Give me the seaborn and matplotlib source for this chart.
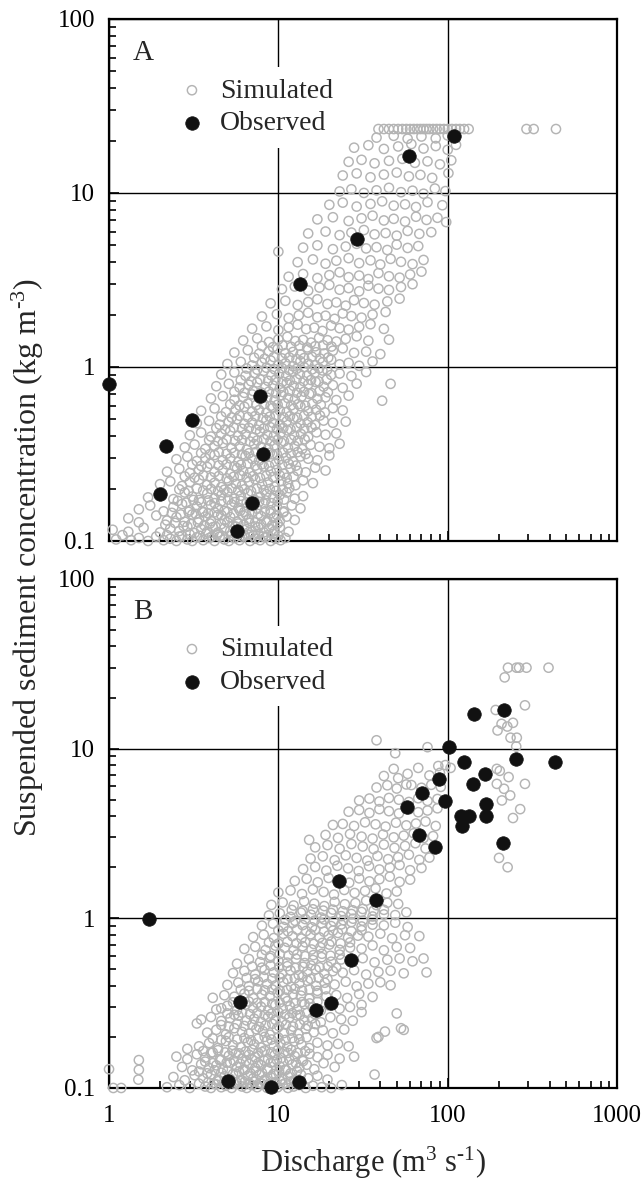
import numpy as np
import matplotlib
matplotlib.use("Agg")
import matplotlib.pyplot as plt
import seaborn as sns
from matplotlib.ticker import LogLocator, NullFormatter

# Abfluss (m3/s) und Schwebstoffkonzentration (kg/m3)
# Panel A - simuliert (x, y)
sim_a = [
    (1.1,0.102),(1.2,0.108),(1.35,0.101),(1.5,0.104),(1.7,0.1),(1.9,0.106),(2.1,0.101),(2.3,0.103),(2.5,0.1),(2.7,0.107),(2.9,0.102),(3.1,0.1),(3.3,0.105),(3.6,0.101),(3.9,0.104),(4.2,0.1),(4.5,0.106),(4.8,0.102),(5.1,0.1),(5.5,0.104),(5.9,0.101),(6.3,0.107),(6.8,0.1),(7.3,0.103),(7.8,0.101),(8.4,0.105),(9.0,0.1),(9.6,0.103),(10.3,0.101),(11.0,0.104),
    (1.05,0.116),(1.3,0.113),(1.6,0.119),(2.0,0.112),(2.3,0.118),(2.6,0.114),(2.9,0.121),(3.2,0.111),(3.5,0.117),(3.8,0.113),(4.1,0.12),(4.4,0.112),(4.8,0.118),(5.2,0.114),(5.6,0.121),(6.0,0.111),(6.5,0.117),(7.0,0.113),(7.6,0.12),(8.2,0.112),(8.8,0.118),(9.5,0.114),(10.2,0.12),(11.5,0.113),
    (1.3,0.135),(1.5,0.128),(1.9,0.14),(2.2,0.131),(2.5,0.137),(2.8,0.129),(3.1,0.142),(3.4,0.133),(3.7,0.138),(4.0,0.13),(4.4,0.141),(4.8,0.132),(5.2,0.137),(5.7,0.129),(6.2,0.14),(6.7,0.134),(7.3,0.128),(7.9,0.139),(8.6,0.131),(9.4,0.136),(10.2,0.13),(11.2,0.138),(12.5,0.132),
    (1.5,0.152),(1.75,0.16),(2.1,0.148),(2.4,0.157),(2.7,0.163),(3.0,0.15),(3.3,0.158),(3.6,0.146),(4.0,0.161),(4.4,0.154),(4.8,0.149),(5.3,0.162),(5.8,0.155),(6.3,0.147),(6.9,0.159),(7.5,0.153),(8.2,0.164),(9.0,0.15),(9.8,0.157),(10.8,0.148),(12.0,0.16),(13.5,0.154),
    (1.7,0.178),(2.0,0.185),(2.4,0.174),(2.8,0.19),(3.1,0.18),(3.4,0.172),(3.8,0.187),(4.2,0.176),(4.6,0.183),(5.0,0.191),(5.5,0.175),(6.0,0.182),(6.6,0.188),(7.2,0.173),(7.8,0.179),(8.5,0.186),(9.3,0.177),(10.2,0.184),(11.2,0.19),(12.5,0.175),(14.0,0.181),
    (2.0,0.212),(2.3,0.22),(2.7,0.207),(3.0,0.218),(3.4,0.225),(3.8,0.21),(4.2,0.216),(4.6,0.204),(5.1,0.222),(5.6,0.213),(6.1,0.208),(6.7,0.219),(7.3,0.226),(8.0,0.211),(8.7,0.217),(9.5,0.205),(10.4,0.221),(11.4,0.214),(12.6,0.209),(14.0,0.223),(16.0,0.215),
    (2.2,0.25),(2.6,0.26),(3.0,0.246),(3.4,0.257),(3.8,0.266),(4.2,0.249),(4.7,0.255),(5.2,0.243),(5.7,0.262),(6.2,0.252),(6.8,0.247),(7.5,0.259),(8.2,0.268),(9.0,0.251),(9.8,0.256),(10.8,0.244),(11.8,0.261),(13.0,0.253),(14.5,0.248),(16.5,0.264),(19.0,0.254),
    (2.5,0.295),(2.9,0.305),(3.3,0.288),(3.7,0.3),(4.2,0.312),(4.7,0.292),(5.2,0.298),(5.8,0.285),(6.4,0.308),(7.0,0.296),(7.7,0.29),(8.4,0.303),(9.2,0.315),(10.1,0.293),(11.1,0.301),(12.2,0.287),(13.5,0.306),(15.0,0.297),(17.0,0.291),(20.0,0.31),
    (2.8,0.345),(3.2,0.358),(3.7,0.338),(4.2,0.352),(4.7,0.365),(5.3,0.342),(5.9,0.349),(6.5,0.335),(7.2,0.36),(7.9,0.347),(8.7,0.34),(9.5,0.355),(10.4,0.368),(11.4,0.343),(12.5,0.351),(13.8,0.337),(15.5,0.357),(17.5,0.348),(20.0,0.341),(23.0,0.362),
    (3.0,0.405),(3.5,0.42),(4.0,0.398),(4.6,0.413),(5.2,0.428),(5.8,0.402),(6.4,0.41),(7.1,0.394),(7.8,0.424),(8.6,0.407),(9.4,0.4),(10.3,0.417),(11.3,0.432),(12.4,0.404),(13.6,0.412),(15.0,0.396),(16.8,0.421),(19.0,0.408),(22.0,0.415),
    (3.3,0.475),(3.9,0.49),(4.5,0.466),(5.1,0.483),(5.7,0.5),(6.3,0.471),(7.0,0.479),(7.7,0.462),(8.5,0.495),(9.3,0.477),(10.2,0.468),(11.2,0.487),(12.3,0.505),(13.5,0.473),(14.9,0.481),(16.5,0.464),(18.5,0.492),(21.0,0.478),(25.0,0.485),
    (3.5,0.56),(4.2,0.578),(4.9,0.55),(5.6,0.57),(6.3,0.59),(7.0,0.555),(7.7,0.565),(8.5,0.545),(9.3,0.584),(10.2,0.562),(11.2,0.552),(12.3,0.574),(13.5,0.595),(15.0,0.558),(16.7,0.568),(18.8,0.548),(21.0,0.58),(24.0,0.563),
    (4.0,0.66),(4.7,0.68),(5.5,0.648),(6.2,0.672),(7.0,0.695),(7.8,0.654),(8.6,0.666),(9.5,0.642),(10.4,0.688),(11.4,0.662),(12.5,0.65),(13.7,0.676),(15.2,0.7),(17.0,0.657),(19.0,0.669),(22.0,0.645),(26.0,0.684),(41.0,0.64),
    (4.3,0.775),(5.1,0.8),(5.9,0.762),(6.7,0.79),(7.5,0.815),(8.4,0.768),(9.3,0.782),(10.2,0.755),(11.2,0.808),(12.3,0.778),(13.5,0.765),(15.0,0.795),(16.6,0.82),(18.5,0.771),(21.0,0.786),(24.0,0.758),(29.0,0.802),(46.0,0.8),
    (4.6,0.905),(5.5,0.93),(6.4,0.89),(7.3,0.92),(8.2,0.95),(9.1,0.895),(10.1,0.912),(11.1,0.882),(12.2,0.94),(13.4,0.908),(14.8,0.893),(16.4,0.925),(18.2,0.955),(20.5,0.9),(23.0,0.917),(27.0,0.886),(33.0,0.935),
    (5.0,1.04),(6.0,1.07),(7.0,1.02),(8.0,1.06),(9.0,1.09),(10.0,1.03),(11.0,1.05),(12.2,1.01),(13.5,1.08),(15.0,1.045),(16.5,1.025),(18.3,1.065),(20.5,1.1),(23.0,1.035),(26.0,1.055),(30.0,1.015),(36.0,1.075),
    (5.5,1.21),(6.6,1.25),(7.7,1.19),(8.8,1.23),(9.9,1.27),(11.0,1.2),(12.2,1.22),(13.5,1.18),(15.0,1.26),(16.7,1.215),(18.6,1.195),(21.0,1.24),(24.0,1.28),(28.0,1.205),(33.0,1.225),(40.0,1.185),
    (6.2,1.42),(7.5,1.46),(8.8,1.39),(10.0,1.44),(11.3,1.49),(12.6,1.41),(14.0,1.43),(15.6,1.38),(17.4,1.47),(19.5,1.425),(22.0,1.4),(25.0,1.45),(29.0,1.5),(34.0,1.415),(45.0,1.435),
    (7.0,1.66),(8.5,1.71),(10.0,1.63),(11.5,1.69),(13.0,1.75),(14.6,1.65),(16.3,1.68),(18.2,1.61),(20.5,1.73),(23.0,1.67),(26.0,1.64),(30.0,1.7),(35.0,1.76),(42.0,1.655),
    (8.0,1.95),(9.8,2.01),(11.5,1.91),(13.2,1.98),(15.0,2.05),(17.0,1.93),(19.0,1.97),(21.5,1.89),(24.0,2.03),(27.0,1.96),(31.0,1.92),(36.0,2.0),(43.0,2.07),
    (9.0,2.32),(11.0,2.4),(13.0,2.27),(15.0,2.36),(17.0,2.45),(19.5,2.3),(22.0,2.35),(25.0,2.25),(28.0,2.42),(32.0,2.33),(37.0,2.28),(44.0,2.38),(52.0,2.47),
    (10.5,2.8),(12.5,2.9),(15.0,2.75),(17.5,2.86),(20.0,2.96),(23.0,2.78),(26.0,2.84),(30.0,2.72),(34.0,2.93),(39.0,2.82),(45.0,2.77),(53.0,2.88),(62.0,2.99),
    (11.5,3.3),(14.0,3.42),(17.0,3.24),(20.0,3.37),(23.0,3.5),(26.0,3.28),(30.0,3.35),(34.0,3.2),(39.0,3.46),(45.0,3.32),(52.0,3.26),(60.0,3.4),(70.0,3.53),
    (10.0,4.6),(13.0,4.0),(16.0,4.15),(19.0,3.92),(22.0,4.08),(26.0,4.22),(30.0,3.95),(35.0,4.1),(40.0,3.88),(46.0,4.18),(53.0,4.02),(62.0,3.9),(72.0,4.12),
    (14.0,4.85),(17.0,5.0),(21.0,4.75),(25.0,4.92),(29.0,5.1),(33.0,4.8),(38.0,4.88),(44.0,4.7),(50.0,5.05),(58.0,4.83),(67.0,4.95),
    (15.0,5.85),(19.0,6.0),(23.0,5.72),(27.0,5.92),(32.0,6.12),(37.0,5.78),(43.0,5.88),(50.0,5.68),(58.0,6.05),(68.0,5.82),(80.0,5.95),(98.0,6.8),
    (17.0,7.05),(21.0,7.25),(26.0,6.9),(31.0,7.15),(36.0,7.4),(42.0,6.95),(48.0,7.1),(56.0,6.85),(65.0,7.3),(75.0,7.0),(87.0,7.2),
    (20.0,8.55),(24.0,8.8),(29.0,8.35),(35.0,8.65),(41.0,8.95),(48.0,8.45),(56.0,8.6),(65.0,8.3),(76.0,8.85),(93.0,8.5),
    (23.0,10.2),(27.0,10.5),(32.0,10.0),(38.0,10.35),(45.0,10.7),(53.0,10.1),(62.0,10.3),(72.0,9.9),(84.0,10.6),(97.0,10.25),
    (24.0,12.6),(29.0,12.95),(35.0,12.3),(42.0,12.75),(50.0,13.1),(59.0,12.45),(69.0,12.7),(81.0,12.2),(101.0,13.0),
    (26.0,15.1),(31.0,15.5),(37.0,14.8),(45.0,15.3),(54.0,15.7),(64.0,14.9),(76.0,15.2),(90.0,14.6),(105.0,15.4),
    (28.0,18.2),(34.0,18.8),(42.0,17.9),(51.0,18.5),(61.0,19.1),(72.0,18.0),(85.0,18.6),(100.0,17.7),(112.0,18.9),
    (38.0,20.8),(48.0,21.3),(58.0,20.5),(70.0,21.1),(85.0,20.6),(100.0,21.4),
    (39,23.3),(42,23.3),(45,23.3),(48,23.3),(51,23.3),(54,23.3),(57,23.3),(60,23.3),(63,23.3),(66,23.3),(69,23.3),(72,23.3),(75,23.3),(78,23.3),(82,23.3),(86,23.3),(90,23.3),(95,23.3),(100,23.3),(106,23.3),(112,23.3),(118,23.3),(125,23.3),(133,23.3),(292,23.3),(322,23.3),(436,23.3),
    # dichter Kern
    (2.2,0.108),(2.6,0.106),(3.0,0.109),(3.45,0.107),(3.75,0.11),(4.05,0.106),(4.35,0.109),(4.65,0.107),(5.3,0.108),(5.7,0.11),(6.1,0.106),(6.6,0.109),(7.1,0.107),(7.6,0.11),(8.1,0.106),(8.7,0.108),(9.3,0.11),(10.0,0.107),
    (2.15,0.124),(2.45,0.127),(2.75,0.122),(3.05,0.125),(3.35,0.128),(3.65,0.123),(3.95,0.126),(4.25,0.121),(4.6,0.125),(5.0,0.128),(5.4,0.122),(5.8,0.126),(6.25,0.124),(6.75,0.127),(7.3,0.121),(7.9,0.125),(8.5,0.128),(9.2,0.123),(9.9,0.126),
    (2.35,0.145),(2.65,0.142),(2.95,0.147),(3.25,0.143),(3.55,0.148),(3.85,0.144),(4.2,0.146),(4.6,0.141),(5.0,0.147),(5.45,0.144),(5.95,0.149),(6.45,0.142),(7.0,0.146),(7.6,0.143),(8.3,0.148),(9.0,0.144),(9.8,0.141),(10.7,0.146),
    (2.55,0.17),(2.85,0.166),(3.15,0.172),(3.5,0.167),(3.85,0.171),(4.2,0.165),(4.6,0.169),(5.05,0.173),(5.5,0.167),(6.0,0.17),(6.5,0.166),(7.1,0.172),(7.7,0.168),(8.4,0.171),(9.1,0.165),(9.9,0.169),(10.8,0.173),
    (2.6,0.198),(2.95,0.194),(3.3,0.2),(3.6,0.195),(4.0,0.199),(4.4,0.193),(4.8,0.197),(5.3,0.201),(5.8,0.195),(6.3,0.198),(6.9,0.193),(7.5,0.2),(8.2,0.196),(8.9,0.199),(9.7,0.194),(10.6,0.197),(11.6,0.201),
    (2.8,0.235),(3.2,0.231),(3.6,0.238),(4.0,0.232),(4.45,0.236),(4.95,0.229),(5.45,0.234),(5.95,0.239),(6.5,0.232),(7.1,0.236),(7.8,0.23),(8.5,0.237),(9.3,0.233),(10.2,0.238),(11.2,0.231),(12.3,0.235),
    (3.1,0.275),(3.5,0.27),(3.95,0.278),(4.45,0.272),(4.95,0.276),(5.5,0.269),(6.0,0.274),(6.6,0.279),(7.3,0.271),(8.0,0.276),(8.8,0.27),(9.6,0.277),(10.5,0.273),(11.5,0.278),(12.7,0.271),
    (3.5,0.32),(3.95,0.315),(4.45,0.323),(4.95,0.317),(5.5,0.321),(6.1,0.314),(6.7,0.319),(7.4,0.325),(8.1,0.316),(8.9,0.321),(9.8,0.315),(10.7,0.322),(11.8,0.318),(13.0,0.324),(14.5,0.316),
    (3.9,0.38),(4.4,0.374),(4.95,0.383),(5.55,0.376),(6.1,0.381),(6.8,0.373),(7.5,0.378),(8.2,0.385),(9.0,0.375),(9.9,0.381),(10.8,0.374),(11.9,0.382),(13.0,0.377),(14.3,0.384),
    (4.3,0.445),(4.85,0.438),(5.45,0.449),(6.1,0.441),(6.7,0.447),(7.4,0.437),(8.2,0.443),(8.95,0.451),(9.8,0.44),(10.7,0.446),(11.8,0.438),(12.9,0.448),(14.2,0.442),(15.7,0.45),
    (4.6,0.52),(5.3,0.512),(5.9,0.525),(6.6,0.515),(7.3,0.522),(8.1,0.51),(8.9,0.518),(9.7,0.527),(10.7,0.514),(11.7,0.521),(12.9,0.511),(14.2,0.524),(15.7,0.517),(17.6,0.526),
    (5.2,0.61),(5.9,0.6),(6.6,0.616),(7.4,0.604),(8.2,0.612),(9.0,0.598),(9.9,0.607),(10.9,0.618),(11.9,0.602),(13.1,0.611),(14.4,0.599),(15.9,0.614),(17.8,0.606),
    (5.5,0.72),(6.3,0.71),(7.1,0.727),(7.9,0.713),(8.8,0.722),(9.7,0.706),(10.7,0.716),(11.7,0.73),(12.9,0.711),(14.2,0.721),(15.7,0.707),(17.5,0.725),(19.6,0.715),
    (6.0,0.84),(6.9,0.828),(7.8,0.848),(8.7,0.832),(9.6,0.843),(10.6,0.824),(11.7,0.836),(12.8,0.851),(14.1,0.829),(15.6,0.841),(17.3,0.826),(19.3,0.846),
    (6.5,0.98),(7.5,0.965),(8.5,0.99),(9.5,0.97),(10.5,0.985),(11.6,0.96),(12.8,0.975),(14.2,0.995),(15.8,0.968),(17.4,0.982),(19.4,0.962),
    (7.2,1.13),(8.3,1.115),(9.4,1.14),(10.5,1.12),(11.6,1.135),(12.8,1.11),(14.2,1.125),(15.8,1.145),(17.6,1.118),(19.7,1.132),
    (8.0,1.32),(9.3,1.3),(10.6,1.33),(11.9,1.305),(13.3,1.325),(14.8,1.295),(16.5,1.315),(18.4,1.335),(20.6,1.31),
]

# Panel A - beobachtet
obs_a_q = [108.8, 58.9, 29.2, 13.4, 1.0, 3.10, 2.16, 2.01, 7.82, 8.09, 6.96, 5.72]
obs_a_c = [21.3, 16.3, 5.42, 2.99, 0.795, 0.495, 0.353, 0.187, 0.684, 0.315, 0.166, 0.114]

# Panel B - simuliert (x, y)
sim_b = [
    (1.06,0.1),(1.18,0.1),(2.2,0.101),(2.6,0.104),(3.0,0.1),(3.4,0.106),(3.7,0.102),(4.0,0.1),(4.3,0.105),(4.6,0.101),(4.9,0.103),(5.3,0.1),(5.7,0.107),(6.1,0.102),(6.5,0.1),(7.0,0.104),(7.5,0.101),(8.0,0.106),(8.6,0.1),(9.2,0.103),(9.9,0.101),(10.6,0.105),(11.4,0.1),(12.3,0.102),(13.3,0.104),(14.5,0.1),(16.0,0.103),(18.0,0.101),(20.5,0.1),(23.7,0.104),
    (1.49,0.112),(2.4,0.116),(2.8,0.111),(3.2,0.119),(3.6,0.114),(4.0,0.12),(4.4,0.112),(4.8,0.117),(5.2,0.113),(5.6,0.121),(6.1,0.111),(6.6,0.118),(7.1,0.114),(7.7,0.12),(8.3,0.112),(9.0,0.116),(9.7,0.119),(10.5,0.113),(11.4,0.117),(12.4,0.111),(13.6,0.12),(15.0,0.114),(17.0,0.118),(19.5,0.112),(37.0,0.12),
    (1.0,0.129),(1.5,0.128),(2.7,0.133),(3.1,0.127),(3.5,0.138),(3.9,0.131),(4.3,0.136),(4.7,0.129),(5.2,0.141),(5.7,0.133),(6.2,0.128),(6.7,0.139),(7.3,0.131),(7.9,0.136),(8.6,0.13),(9.4,0.142),(10.2,0.134),(11.1,0.128),(12.1,0.138),(13.3,0.132),(14.7,0.137),(16.3,0.129),(18.5,0.14),(21.5,0.133),
    (1.5,0.146),(2.5,0.153),(2.9,0.148),(3.3,0.158),(3.7,0.151),(4.1,0.162),(4.6,0.147),(5.1,0.155),(5.6,0.16),(6.1,0.149),(6.7,0.157),(7.3,0.152),(8.0,0.163),(8.7,0.148),(9.5,0.156),(10.4,0.15),(11.4,0.161),(12.5,0.154),(13.8,0.147),(15.3,0.159),(17.0,0.152),(19.5,0.157),(23.0,0.149),(28.0,0.153),
    (2.9,0.17),(3.4,0.176),(3.9,0.184),(4.4,0.172),(4.9,0.189),(5.4,0.179),(6.0,0.174),(6.6,0.186),(7.2,0.181),(7.9,0.173),(8.6,0.19),(9.4,0.177),(10.3,0.183),(11.3,0.175),(12.4,0.188),(13.7,0.18),(15.2,0.172),(17.0,0.185),(19.5,0.178),(22.5,0.182),(26.0,0.176),(38.0,0.197),
    (3.3,0.24),(3.8,0.212),(4.3,0.22),(4.9,0.207),(5.5,0.225),(6.1,0.214),(6.7,0.209),(7.4,0.222),(8.1,0.216),(8.9,0.206),(9.8,0.224),(10.8,0.211),(11.9,0.218),(13.1,0.208),(14.5,0.223),(16.2,0.213),(18.3,0.219),(21.0,0.21),(24.5,0.221),(39.0,0.2),(42.6,0.215),(53.0,0.225),(55.0,0.22),
    (3.5,0.253),(4.0,0.262),(4.6,0.248),(5.2,0.258),(5.8,0.267),(6.5,0.25),(7.2,0.256),(7.9,0.245),(8.7,0.263),(9.6,0.252),(10.5,0.247),(11.6,0.26),(12.8,0.268),(14.2,0.251),(15.8,0.257),(17.8,0.244),(20.3,0.261),(23.5,0.254),(27.5,0.249),(31.0,0.28),(50.0,0.275),
    (4.3,0.29),(4.6,0.295),(5.0,0.305),(5.7,0.288),(6.4,0.31),(7.1,0.296),(7.9,0.301),(8.7,0.287),(9.6,0.308),(10.6,0.294),(11.7,0.303),(12.9,0.29),(14.3,0.312),(15.9,0.298),(17.8,0.286),(20.0,0.306),(23.0,0.293),(26.5,0.3),(31.0,0.309),
    (4.1,0.34),(4.8,0.352),(5.5,0.345),(6.3,0.36),(7.1,0.338),(8.0,0.355),(8.9,0.348),(9.9,0.364),(11.0,0.341),(12.2,0.357),(13.6,0.35),(15.2,0.336),(17.0,0.362),(19.2,0.346),(22.0,0.353),(25.5,0.339),(30.0,0.358),(36.0,0.344),
    (5.0,0.405),(5.8,0.418),(6.7,0.398),(7.6,0.425),(8.6,0.41),(9.6,0.402),(10.7,0.421),(11.9,0.395),(13.3,0.414),(14.9,0.428),(16.7,0.4),(18.8,0.417),(21.5,0.407),(25.0,0.423),(29.0,0.397),(34.0,0.412),(40.0,0.42),(46.0,0.403),
    (5.4,0.475),(6.3,0.49),(7.3,0.467),(8.3,0.497),(9.4,0.48),(10.5,0.47),(11.8,0.493),(13.2,0.463),(14.8,0.485),(16.6,0.5),(18.7,0.472),(21.0,0.488),(24.0,0.478),(28.0,0.495),(33.0,0.466),(39.0,0.483),(46.0,0.491),(55.0,0.474),(75.0,0.48),
    (5.7,0.54),(6.7,0.575),(7.8,0.552),(8.9,0.585),(10.0,0.56),(11.3,0.548),(12.7,0.578),(14.3,0.545),(16.0,0.568),(18.0,0.59),(20.5,0.555),(23.5,0.572),(27.0,0.562),(31.5,0.582),(37.0,0.55),(44.0,0.57),(52.0,0.58),(62.0,0.558),(72.0,0.58),
    (6.3,0.66),(7.3,0.68),(8.4,0.65),(9.6,0.69),(10.9,0.67),(12.3,0.645),(13.9,0.685),(15.7,0.655),(17.7,0.675),(20.0,0.7),(23.0,0.652),(26.5,0.672),(31.0,0.662),(36.0,0.692),(42.0,0.648),(50.0,0.678),(60.0,0.668),
    (7.1,0.775),(8.2,0.8),(9.4,0.765),(10.7,0.81),(12.1,0.785),(13.7,0.76),(15.5,0.805),(17.5,0.772),(19.8,0.792),(22.5,0.82),(25.8,0.768),(29.5,0.79),(34.0,0.78),(40.0,0.812),(47.0,0.762),(56.0,0.795),(68.0,0.785),
    (8.0,0.905),(9.3,0.93),(10.7,0.89),(12.2,0.94),(13.9,0.912),(15.8,0.885),(18.0,0.935),(20.5,0.9),(23.5,0.92),(27.0,0.95),(31.0,0.895),(36.0,0.918),(42.0,0.908),(49.0,0.942),(58.0,0.888),
    (8.8,1.04),(10.2,1.07),(11.8,1.02),(13.6,1.08),(15.6,1.05),(17.9,1.01),(20.5,1.075),(23.5,1.03),(27.0,1.06),(31.0,1.09),(36.0,1.025),(42.0,1.055),(49.0,1.045),(57.0,1.085),
    (9.1,1.2),(10.6,1.24),(12.3,1.19),(14.2,1.26),(16.3,1.22),(18.7,1.18),(21.5,1.25),(24.7,1.21),(28.5,1.23),(33.0,1.27),(38.0,1.195),(44.0,1.235),(51.0,1.215),
    (10.0,1.42),(11.8,1.46),(13.8,1.39),(16.0,1.48),(18.5,1.43),(21.3,1.38),(24.5,1.47),(28.2,1.41),(32.5,1.45),(37.5,1.5),(43.5,1.4),(50.0,1.44),
    (12.5,1.66),(14.7,1.71),(17.1,1.63),(19.8,1.73),(22.8,1.68),(26.2,1.62),(30.0,1.72),(34.5,1.65),(39.5,1.7),(45.5,1.76),(52.0,1.64),(60.0,1.69),
    (14.0,1.95),(16.5,2.01),(19.2,1.91),(22.3,2.04),(25.8,1.97),(29.8,1.9),(34.3,2.03),(39.5,1.94),(45.5,1.99),(52.0,2.06),(60.0,1.92),(70.0,1.98),(226.0,2.0),
    (15.5,2.25),(18.3,2.32),(21.5,2.2),(25.0,2.35),(29.0,2.27),(33.5,2.19),(38.5,2.33),(44.5,2.23),(51.0,2.29),(59.0,2.37),(68.0,2.21),(78.0,2.28),(201.0,2.27),
    (16.5,2.62),(19.5,2.7),(23.0,2.57),(27.0,2.74),(31.5,2.65),(36.5,2.56),(42.0,2.72),(48.5,2.6),(56.0,2.67),(64.5,2.77),(74.0,2.58),(84.0,2.66),
    (15.2,2.9),(19.0,3.1),(22.5,2.98),(26.5,3.14),(31.0,3.03),(36.0,2.95),(41.5,3.12),(48.0,3.0),(55.0,3.07),(63.0,3.17),(72.0,2.97),(82.0,3.05),
    (21.0,3.55),(24.0,3.6),(28.0,3.5),(32.5,3.68),(37.5,3.58),(43.0,3.47),(49.5,3.66),(57.0,3.53),(65.0,3.62),(74.0,3.72),(85.0,3.5),(243.0,3.9),
    (26.0,4.25),(30.0,4.35),(34.5,4.18),(39.5,4.4),(45.0,4.28),(51.5,4.15),(59.0,4.38),(67.0,4.22),(76.0,4.32),(87.0,4.45),(268.0,4.4),
    (30.0,4.95),(34.5,5.08),(39.5,4.88),(45.0,5.12),(51.5,5.0),(59.0,4.85),(67.0,5.1),(76.0,4.92),(87.0,5.05),(209.0,4.95),(234.0,5.3),
    (38.0,5.9),(44.0,6.08),(50.0,5.82),(57.0,6.15),(61.0,6.1),(70.0,5.88),(80.0,6.12),(91.0,5.95),(195.0,6.2),(215.0,5.8),(286.0,6.2),
    (42.0,6.9),(51.0,6.7),(58.0,7.1),(67.0,7.7),(78.0,6.95),(90.0,7.2),(229.0,6.8),(203.0,7.4),(195.0,7.6),
    (48.0,7.6),(104.0,7.7),(88.0,7.9),(97.0,8.0),
    (49.0,9.4),(38.0,11.2),(76.0,10.2),(254.0,10.3),(235.0,11.6),(256.0,11.6),(197.0,12.8),
    (208.0,14.0),(243.0,14.2),(192.0,16.9),(286.0,18.0),(225.0,13.5),
    (217.0,26.3),(227.0,30.0),(255.0,30.0),(264.0,30.0),(292.0,30.0),(394.0,30.0),
    # dichter Kern
    (3.85,0.108),(4.15,0.106),(4.45,0.11),(4.75,0.107),(5.1,0.109),(5.5,0.106),(5.9,0.11),(6.3,0.108),(6.75,0.106),(7.25,0.109),(7.75,0.107),(8.3,0.11),(8.9,0.106),(9.55,0.108),(10.25,0.11),(11.0,0.107),(11.85,0.109),(12.8,0.106),
    (3.4,0.125),(3.8,0.122),(4.2,0.127),(4.6,0.123),(5.0,0.126),(5.4,0.121),(5.85,0.125),(6.35,0.128),(6.85,0.122),(7.4,0.126),(8.0,0.123),(8.65,0.127),(9.35,0.121),(10.1,0.125),(10.9,0.128),(11.8,0.122),(12.9,0.126),
    (3.7,0.143),(4.1,0.14),(4.5,0.146),(4.95,0.141),(5.45,0.145),(5.95,0.139),(6.45,0.144),(7.0,0.147),(7.6,0.14),(8.25,0.145),(9.0,0.141),(9.8,0.146),(10.65,0.142),(11.6,0.147),(12.7,0.14),(14.0,0.144),
    (3.6,0.165),(4.0,0.161),(4.4,0.167),(4.85,0.162),(5.35,0.166),(5.85,0.16),(6.4,0.164),(7.0,0.168),(7.6,0.161),(8.3,0.166),(9.1,0.162),(9.9,0.167),(10.85,0.163),(11.9,0.168),(13.0,0.161),(14.4,0.165),
    (4.1,0.196),(4.6,0.192),(5.1,0.199),(5.7,0.193),(6.3,0.197),(6.9,0.191),(7.6,0.195),(8.3,0.2),(9.1,0.193),(10.0,0.198),(11.0,0.192),(12.1,0.197),(13.3,0.194),(14.7,0.199),
    (4.6,0.235),(5.1,0.23),(5.7,0.238),(6.3,0.232),(7.0,0.236),(7.7,0.229),(8.4,0.234),(9.2,0.239),(10.1,0.231),(11.1,0.236),(12.2,0.23),(13.4,0.237),(14.9,0.233),(16.5,0.238),
    (5.0,0.275),(5.5,0.27),(6.1,0.278),(6.8,0.272),(7.5,0.276),(8.3,0.269),(9.1,0.274),(10.0,0.279),(11.0,0.271),(12.1,0.276),(13.4,0.27),(14.8,0.277),(16.4,0.273),
    (5.4,0.32),(6.0,0.315),(6.7,0.323),(7.5,0.317),(8.3,0.321),(9.2,0.314),(10.2,0.319),(11.3,0.325),(12.5,0.316),(13.8,0.321),(15.3,0.315),(17.0,0.322),
    (6.0,0.38),(6.7,0.374),(7.5,0.383),(8.3,0.376),(9.2,0.381),(10.2,0.373),(11.3,0.378),(12.5,0.385),(13.8,0.375),(15.3,0.381),(17.0,0.374),(19.0,0.382),
    (6.5,0.445),(7.3,0.438),(8.2,0.449),(9.2,0.441),(10.2,0.447),(11.3,0.437),(12.5,0.443),(13.9,0.451),(15.5,0.44),(17.3,0.446),(19.5,0.438),
    (7.0,0.52),(8.0,0.512),(9.0,0.525),(10.1,0.515),(11.3,0.522),(12.6,0.51),(14.0,0.518),(15.6,0.527),(17.5,0.514),(19.6,0.521),(22.0,0.511),
    (8.0,0.61),(9.0,0.6),(10.2,0.616),(11.5,0.604),(12.9,0.612),(14.4,0.598),(16.1,0.607),(18.1,0.618),(20.3,0.602),(23.0,0.611),
    (8.8,0.72),(10.0,0.71),(11.3,0.727),(12.8,0.713),(14.4,0.722),(16.2,0.706),(18.2,0.716),(20.6,0.73),(23.3,0.711),(26.5,0.721),
    (10.0,0.85),(11.4,0.838),(12.9,0.858),(14.6,0.842),(16.5,0.853),(18.6,0.834),(21.0,0.846),(23.8,0.861),(27.0,0.839),(31.0,0.851),
    (11.0,0.98),(12.6,0.965),(14.4,0.99),(16.4,0.97),(18.6,0.985),(21.2,0.96),(24.2,0.975),(27.6,0.995),(31.5,0.968),(36.0,0.982),
    (12.0,1.12),(13.9,1.105),(16.0,1.13),(18.4,1.11),(21.0,1.125),(24.0,1.1),(27.5,1.115),(31.5,1.135),(36.5,1.108),(42.0,1.122),
]

# Panel B - beobachtet
obs_b_q = [143.7, 216, 101.6, 124.2, 253.7, 428.5, 88.5, 165.2, 140.5, 70.4, 96.7, 168, 57.3, 119.5,
           134.3, 168, 121.6, 67.3, 84.1, 211, 22.9, 37.7, 1.73, 26.8, 5.92, 20.4, 16.6, 5.04, 9.0, 13.3]
obs_b_c = [16.1, 16.8, 10.2, 8.3, 8.7, 8.3, 6.62, 7.06, 6.17, 5.47, 4.91, 4.71, 4.51, 4.01,
           4.01, 4.01, 3.50, 3.10, 2.64, 2.78, 1.67, 1.28, 0.99, 0.570, 0.323, 0.317, 0.287, 0.110, 0.102, 0.108]

x_ticks = [1, 10, 100, 1000]
x_ticklabels = ['1', '10', '100', '1000']
y_ticks = [0.1, 1, 10, 100]
y_ticklabels = ['0.1', '1', '10', '100']

SIM_GREY = '#b4b4b4'
OBS_BLACK = '#111111'

sns.set_theme(style='white')
plt.rcParams['font.family'] = ['Liberation Serif', 'DejaVu Serif']
plt.rcParams['mathtext.fontset'] = 'custom'
plt.rcParams['mathtext.rm'] = 'Liberation Serif'
plt.rcParams['mathtext.it'] = 'Liberation Serif:italic'


def draw_panel(ax, sim, obs_q, obs_c, letter, show_xlabels):
    sim_q = [p[0] for p in sim]
    sim_c = [p[1] for p in sim]
    sns.scatterplot(x=sim_q, y=sim_c, ax=ax, s=44, color=SIM_GREY, linewidth=1.05,
                    label='Simulated', zorder=3, clip_on=False)
    pts = ax.collections[-1]
    pts.set_facecolor('none')
    pts.set_edgecolor(SIM_GREY)
    sns.scatterplot(x=obs_q, y=obs_c, ax=ax, s=95, color=OBS_BLACK, edgecolor=OBS_BLACK,
                    linewidth=0.5, label='Observed', zorder=4, clip_on=False)

    ax.set_xscale('log')
    ax.set_yscale('log')
    ax.set_xlim(1, 1000)
    ax.set_ylim(0.1, 100)
    ax.set_xticks(x_ticks)
    ax.set_yticks(y_ticks)
    ax.set_yticklabels(y_ticklabels)
    if show_xlabels:
        ax.set_xticklabels(x_ticklabels)
    else:
        ax.set_xticklabels([])
    ax.xaxis.set_minor_locator(LogLocator(base=10, subs=np.arange(2, 10)))
    ax.yaxis.set_minor_locator(LogLocator(base=10, subs=np.arange(2, 10)))
    ax.xaxis.set_minor_formatter(NullFormatter())
    ax.yaxis.set_minor_formatter(NullFormatter())
    ax.tick_params(which='both', direction='in', top=False, right=False,
                   left=True, bottom=True, color='black', width=1.2)
    ax.tick_params(which='major', length=7, labelsize=18, colors='black')
    ax.tick_params(which='minor', length=5)
    ax.tick_params(axis='x', which='major', pad=12)
    ax.tick_params(axis='y', which='major', pad=10)

    ax.grid(True, which='major', color='black', linewidth=1.0)
    ax.grid(False, which='minor')
    ax.set_axisbelow(True)
    for sp in ax.spines.values():
        sp.set_color('black')
        sp.set_linewidth(1.6)

    ax.legend(loc='upper left', bbox_to_anchor=(0.114, 0.908), frameon=True,
              facecolor='white', edgecolor='none', framealpha=1, fancybox=False,
              fontsize=20, handlelength=1.0, handletextpad=0.5, labelspacing=0.27,
              borderpad=0.4, borderaxespad=0)
    ax.text(0.047, 0.935, letter, transform=ax.transAxes, fontsize=21,
            ha='left', va='center')
    ax.set_xlabel('')
    ax.set_ylabel('')


fig = plt.figure(figsize=(6.44, 11.84), dpi=100)
ax_a = fig.add_axes([0.1693, 0.5431, 0.7888, 0.4409])
ax_b = fig.add_axes([0.1693, 0.0811, 0.7888, 0.4299])

draw_panel(ax_a, sim_a, obs_a_q, obs_a_c, 'A', False)
draw_panel(ax_b, sim_b, obs_b_q, obs_b_c, 'B', True)

fig.text(0.043, 0.529, r'Suspended sediment concentration (kg m$^{\text{-}3}$)',
         rotation=90, fontsize=23, ha='center', va='center')
fig.text(0.579, 0.018, r'Discharge (m$^{3}$ s$^{\text{-}1}$)', fontsize=22,
         ha='center', va='center')

fig.savefig('out.png', dpi=100)
